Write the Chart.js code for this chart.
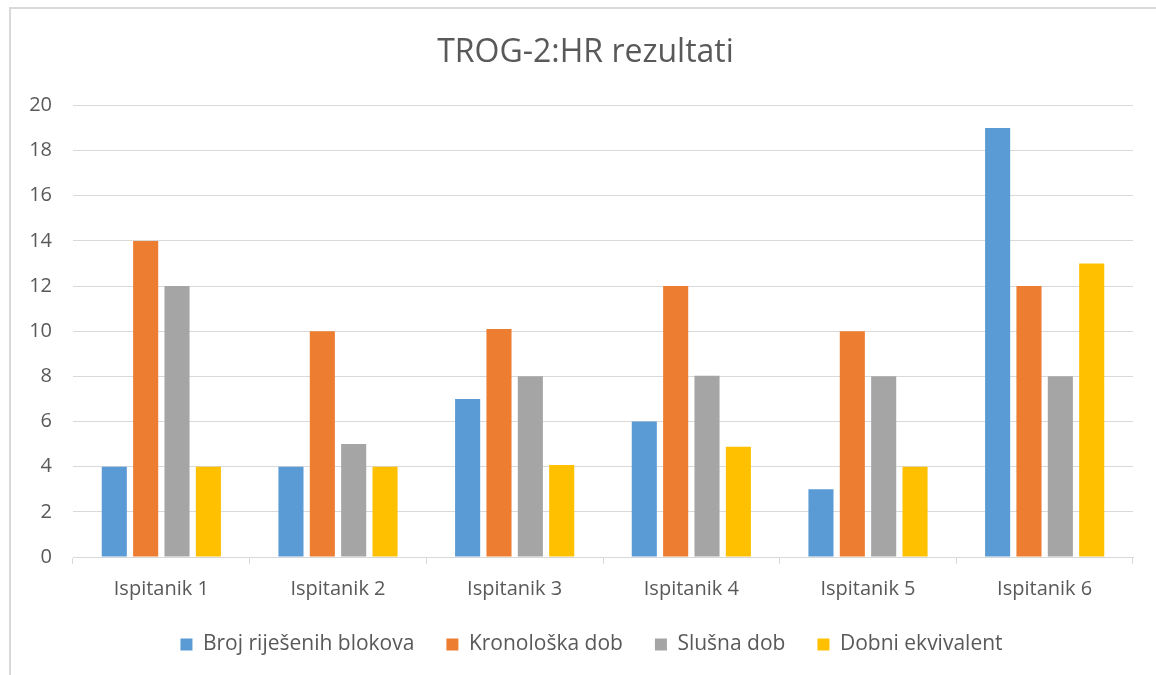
<!DOCTYPE html>
<html>
<head>
<meta charset="utf-8">
<script src="https://cdn.jsdelivr.net/npm/chart.js@4.4.1/dist/chart.umd.min.js"></script>
<style>
  html, body { margin: 0; padding: 0; background: #fff; }
  #wrap { position: relative; width: 1156px; height: 675px; overflow: hidden; }
  #frame { position: absolute; left: 9px; top: 7px; width: 1200px; height: 700px;
           border-left: 2px solid #d9d9d9; border-top: 2px solid #d9d9d9; }
  #c { position: absolute; left: 0; top: 0; }
</style>
</head>
<body>
<div id="wrap">
  <div id="frame"></div>
  <canvas id="c" width="1156" height="675"></canvas>
</div>
<script>
const categories = ["Ispitanik 1", "Ispitanik 2", "Ispitanik 3", "Ispitanik 4", "Ispitanik 5", "Ispitanik 6"];
const brojRijesenihBlokova = [4, 4, 7, 6, 3, 19];
const kronoloskaDob = [14, 10, 10.1, 12, 10, 12];
const slusnaDob = [12, 5, 8, 8.03, 8, 8];
const dobniEkvivalent = [4, 4, 4.07, 4.88, 4, 13];
const seriesNames = ["Broj riješenih blokova", "Kronološka dob", "Slušna dob", "Dobni ekvivalent"];
const seriesColors = ["#5b9bd5", "#ed7d31", "#a5a5a5", "#ffc000"];
const yTicks = [0, 2, 4, 6, 8, 10, 12, 14, 16, 18, 20];

const FONT = "'Open Sans', 'Liberation Sans', sans-serif";
const TEXT = "#595959";
const GRID = "#d9d9d9";

const seriesData = [brojRijesenihBlokova, kronoloskaDob, slusnaDob, dobniEkvivalent];

// shift title and legend so they are centred on the whole framed chart, not the plot
const centreShift = {
  id: "centreShift",
  afterLayout(chart) {
    if (chart.titleBlock) { chart.titleBlock.left += 19; chart.titleBlock.right += 19; }
    if (chart.legend) { chart.legend.left += 25; chart.legend.right += 25; }
  }
};

new Chart(document.getElementById("c"), {
  type: "bar",
  data: {
    labels: categories,
    datasets: seriesNames.map((n, i) => ({
      label: n,
      data: seriesData[i],
      backgroundColor: seriesColors[i],
      borderWidth: 0,
      categoryPercentage: 0.71,
      barPercentage: 0.8
    }))
  },
  plugins: [centreShift],
  options: {
    responsive: false,
    animation: false,
    layout: { padding: { left: 0, right: 23, top: 0, bottom: 10 } },
    plugins: {
      title: {
        display: true,
        text: "TROG-2:HR rezultati",
        color: TEXT,
        font: { family: FONT, size: 32, weight: "normal" },
        padding: { top: 34, bottom: 33 }
      },
      legend: {
        position: "bottom",
        labels: {
          color: TEXT,
          font: { family: FONT, size: 21 },
          boxWidth: 12,
          boxHeight: 12,
          padding: 32
        }
      },
      tooltip: { enabled: false }
    },
    scales: {
      x: {
        grid: { display: true, drawOnChartArea: false, drawTicks: true, tickLength: 7, color: GRID, offset: true },
        border: { display: true, color: GRID, width: 1 },
        ticks: { color: TEXT, font: { family: FONT, size: 20 }, padding: 13 },
        afterFit: (s) => { s.height = 45; }
      },
      y: {
        min: 0,
        max: 20,
        afterBuildTicks: (s) => { s.ticks = yTicks.map(v => ({ value: v })); },
        grid: { color: GRID, drawTicks: false },
        border: { display: false },
        ticks: { color: TEXT, font: { family: FONT, size: 20 }, padding: 21 },
        afterFit: (s) => { s.width = 73; }
      }
    }
  }
});
</script>
</body>
</html>
